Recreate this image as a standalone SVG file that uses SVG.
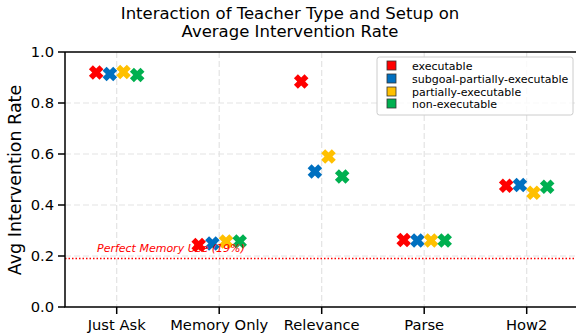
<svg xmlns="http://www.w3.org/2000/svg" width="576" height="336" viewBox="0 0 576 336">
<style>
text{font-family:"DejaVu Sans","Liberation Sans",sans-serif;fill:#000}
.title{font-size:16.5px;text-anchor:middle}
.tick{font-size:14.7px}
.yt{text-anchor:end}
.xt{text-anchor:middle}
.grid{stroke:#e3e3e3;stroke-width:1.2;stroke-dasharray:6,3;fill:none}
.spine{stroke:#000;stroke-width:1.5;fill:none}
.tk{stroke:#000;stroke-width:1.5}
.leg{font-size:11px}
.r{fill:#ff0000}.b{fill:#0070c0}.y{fill:#ffc000}.g{fill:#00b050}
</style>
<defs>
<path id="X" d="M2.8,7.5 L2.8,2.8 L7.5,2.8 L7.5,-2.8 L2.8,-2.8 L2.8,-7.5 L-2.8,-7.5 L-2.8,-2.8 L-7.5,-2.8 L-7.5,2.8 L-2.8,2.8 L-2.8,7.5 Z" transform="rotate(45)"/>
</defs>
<rect width="576" height="336" fill="#fff"/>
<g id="title">
<text class="title" x="290" y="19">Interaction of Teacher Type and Setup on</text>
<text class="title" x="290" y="37">Average Intervention Rate</text>
</g>
<g id="grid">
<line class="grid" x1="116.7" y1="52" x2="116.7" y2="307"/>
<line class="grid" x1="219.2" y1="52" x2="219.2" y2="307"/>
<line class="grid" x1="321.7" y1="52" x2="321.7" y2="307"/>
<line class="grid" x1="424.2" y1="52" x2="424.2" y2="307"/>
<line class="grid" x1="526.7" y1="52" x2="526.7" y2="307"/>
<line class="grid" x1="65" y1="256" x2="576" y2="256"/>
<line class="grid" x1="65" y1="205" x2="576" y2="205"/>
<line class="grid" x1="65" y1="154" x2="576" y2="154"/>
<line class="grid" x1="65" y1="103" x2="576" y2="103"/>
</g>
<g id="reference-line">
<line x1="65" y1="258.5" x2="576" y2="258.5" stroke="#ff0000" stroke-width="1.5" stroke-dasharray="1.5,2"/>
</g>
<g id="axes">
<path class="spine" d="M65,52 V307 H576 M65,52 H576"/>
<g class="tk">
<line x1="58" y1="307" x2="65" y2="307"/>
<line x1="58" y1="256" x2="65" y2="256"/>
<line x1="58" y1="205" x2="65" y2="205"/>
<line x1="58" y1="154" x2="65" y2="154"/>
<line x1="58" y1="103" x2="65" y2="103"/>
<line x1="58" y1="52" x2="65" y2="52"/>
<line x1="116.7" y1="307" x2="116.7" y2="314"/>
<line x1="219.2" y1="307" x2="219.2" y2="314"/>
<line x1="321.7" y1="307" x2="321.7" y2="314"/>
<line x1="424.2" y1="307" x2="424.2" y2="314"/>
<line x1="526.7" y1="307" x2="526.7" y2="314"/>
</g>
<text class="tick yt" x="54" y="312">0.0</text>
<text class="tick yt" x="54" y="261">0.2</text>
<text class="tick yt" x="54" y="210">0.4</text>
<text class="tick yt" x="54" y="159">0.6</text>
<text class="tick yt" x="54" y="108">0.8</text>
<text class="tick yt" x="54" y="57">1.0</text>
<text class="tick xt" x="116.7" y="330">Just Ask</text>
<text class="tick xt" x="219.2" y="330">Memory Only</text>
<text class="tick xt" x="321.7" y="330">Relevance</text>
<text class="tick xt" x="424.2" y="330">Parse</text>
<text class="tick xt" x="526.7" y="330">How2</text>
<text x="21" y="180" font-size="17.5" text-anchor="middle" transform="rotate(-90 21 180)">Avg Intervention Rate</text>
</g>
<g id="markers">
<use href="#X" class="r" x="96.2" y="72.5"/>
<use href="#X" class="b" x="109.9" y="74"/>
<use href="#X" class="y" x="123.5" y="72"/>
<use href="#X" class="g" x="137.2" y="75"/>
<use href="#X" class="r" x="198.7" y="245"/>
<use href="#X" class="b" x="212.4" y="243.5"/>
<use href="#X" class="y" x="226" y="241.5"/>
<use href="#X" class="g" x="239.7" y="241.5"/>
<use href="#X" class="r" x="301.2" y="81.5"/>
<use href="#X" class="b" x="314.9" y="171.5"/>
<use href="#X" class="y" x="328.5" y="156.5"/>
<use href="#X" class="g" x="342.2" y="176.5"/>
<use href="#X" class="r" x="403.7" y="240"/>
<use href="#X" class="b" x="417.4" y="240.5"/>
<use href="#X" class="y" x="431" y="240.5"/>
<use href="#X" class="g" x="444.7" y="240.5"/>
<use href="#X" class="r" x="506.2" y="185.7"/>
<use href="#X" class="b" x="519.9" y="185"/>
<use href="#X" class="y" x="533.5" y="192.7"/>
<use href="#X" class="g" x="547.2" y="186.7"/>
</g>
<g id="ref-label">
<text x="97" y="252" font-size="11" font-style="italic" style="fill:#ff0000">Perfect Memory Use (19%)</text>
</g>
<g id="legend">
<rect x="377" y="57" width="196" height="58" rx="2.5" fill="#fff" fill-opacity="0.8" stroke="#cccccc" stroke-width="1"/>
<rect x="387" y="61" width="9" height="9" class="r" stroke="#333" stroke-width="0.8"/>
<rect x="387" y="74" width="9" height="9" class="b" stroke="#333" stroke-width="0.8"/>
<rect x="387" y="87" width="9" height="9" class="y" stroke="#333" stroke-width="0.8"/>
<rect x="387" y="99" width="9" height="9" class="g" stroke="#333" stroke-width="0.8"/>
<text class="leg" x="412" y="70">executable</text>
<text class="leg" x="412" y="83">subgoal-partially-executable</text>
<text class="leg" x="412" y="96">partially-executable</text>
<text class="leg" x="412" y="108">non-executable</text>
</g>
</svg>
